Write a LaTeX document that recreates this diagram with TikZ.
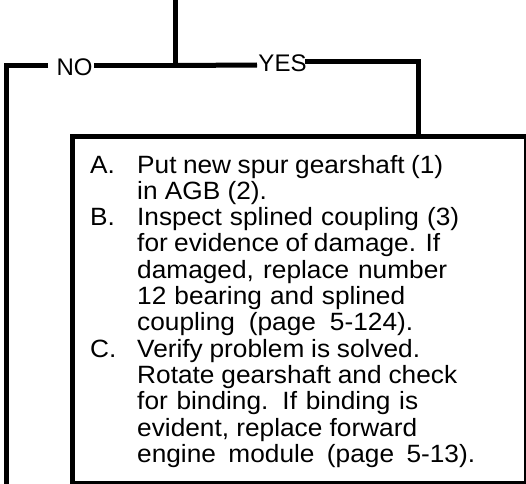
\documentclass[tikz,border=0pt]{standalone}
\usepackage{fontspec}
\setmainfont{Liberation Sans}
\newfontfamily\boxfont{Liberation Sans}[FakeStretch=1.05]
\begin{document}
\begin{tikzpicture}[x=1pt,y=1pt,
  lbl/.style={inner sep=0pt, font=\fontsize{24}{26}\selectfont},
  wire/.style={line width=5pt, line cap=butt, line join=miter},
  stepbox/.style={draw, line width=5pt, inner sep=0pt, minimum width=454pt, minimum height=347pt, anchor=north west}]
\useasboundingbox (0,0) rectangle (526,483);
% junction and free ends
\coordinate (top) at (175,490);
\coordinate (j) at (175,417.5);
\coordinate (noR) at (94,417.5);
\coordinate (noL) at (48,417.5);
\coordinate (nl) at (6,417.5);
\coordinate (nb) at (6,-5);
\coordinate (yesL) at (257,418);
\coordinate (yesR) at (305,421.5);
\coordinate (yr) at (418,421.5);
% labels
\node[lbl] (no) at (74.5,416) {NO};
\node[lbl] (yes) at (282.5,419.7) {YES};
% box
\node[stepbox] (box) at (70,349.5) {};
\node[anchor=base west, inner sep=0pt, font=\boxfont\fontsize{25}{26.3}\selectfont] (txt) at (90,310)
{\begin{tabular}[t]{@{}l@{}l@{}}
\makebox[47pt][l]{A.} & \makebox[306pt][s]{Put new spur gearshaft (1)}\\
 & in AGB (2).\\
B. & \makebox[322pt][s]{Inspect splined coupling (3)}\\
 & \makebox[303pt][s]{for evidence of damage. If}\\
 & \makebox[310pt][s]{damaged, replace number}\\
 & \makebox[268pt][s]{12 bearing and splined}\\
 & \makebox[276pt][s]{coupling (page 5-124).}\\
C. & \makebox[283pt][s]{Verify problem is solved.}\\
 & \makebox[320pt][s]{Rotate gearshaft and check}\\
 & \makebox[281pt][s]{for binding. If binding is}\\
 & \makebox[280pt][s]{evident, replace forward}\\
 & \makebox[338pt][s]{engine module (page 5-13).}
\end{tabular}};
% connectors
\draw[wire] (top) -- (j);
\draw[wire] (j) -- (noR);
\draw[wire] (noL) -- (nl) -- (nb);
\draw[wire] (j) -- (yesL);
\draw[wire] (yesR) -- (yr) -- (box.north -| yr);
\end{tikzpicture}
\end{document}
